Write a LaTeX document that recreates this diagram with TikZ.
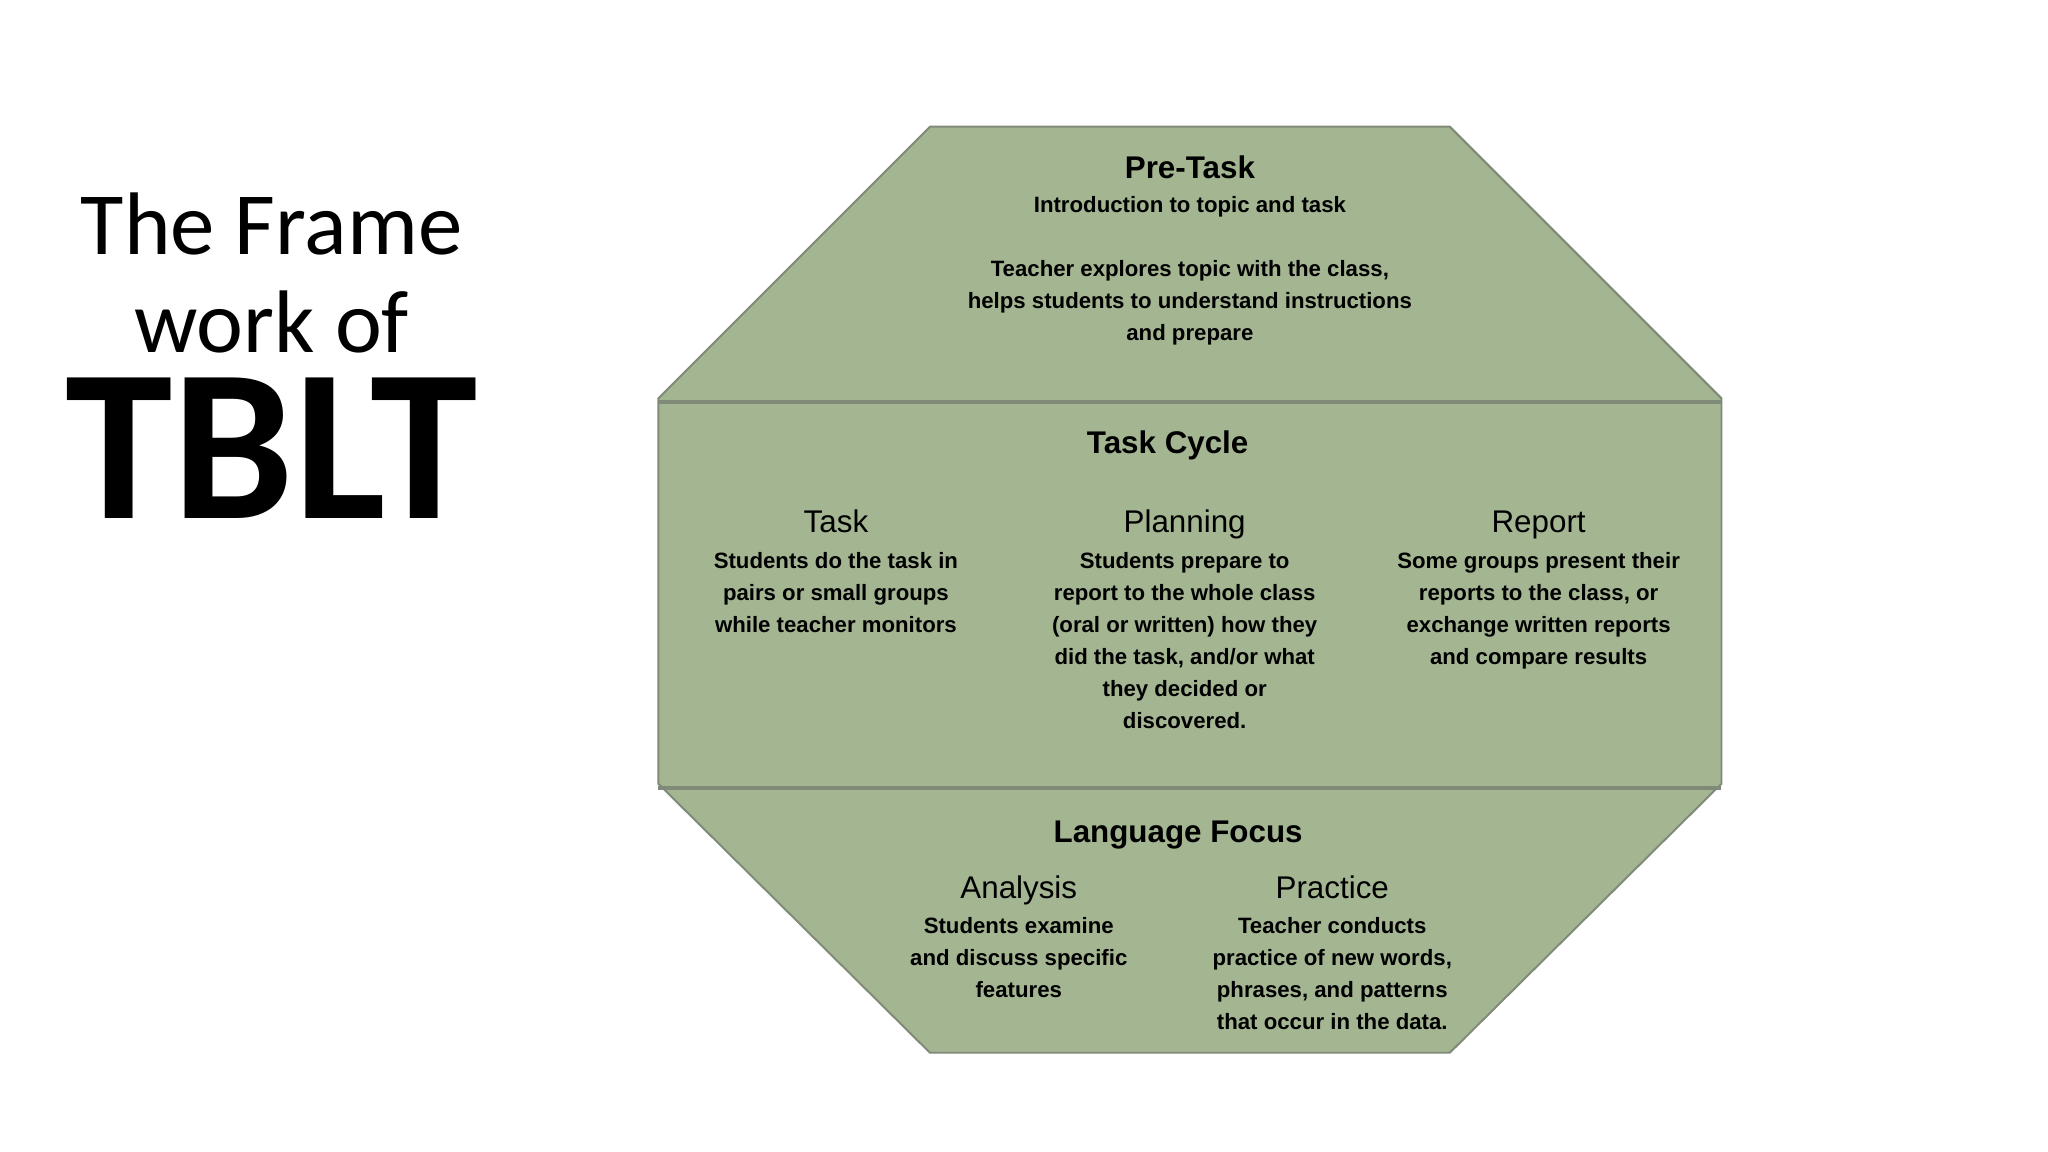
\documentclass[tikz,border=0pt]{standalone}
\usepackage{fontspec}
\setmainfont{Liberation Sans}
\newfontfamily\carfont{Carlito}
\begin{document}
\begin{tikzpicture}[x=1pt,y=-1pt,
  hd/.style={anchor=base,font={\fontsize{24}{28}\selectfont\bfseries}},
  sh/.style={anchor=base,font={\fontsize{24}{28}\selectfont}},
  bd/.style={anchor=base,align=center,inner sep=0pt,font={\fontsize{17}{24.5}\selectfont\bfseries}},
  tt/.style={anchor=base,inner sep=0pt}]
\useasboundingbox (0,0) rectangle (1568,882);
\fill[white] (0,0) rectangle (1568,882);
\definecolor{oct}{HTML}{A4B592}
\definecolor{edge}{HTML}{808A78}
\draw[edge,fill=oct,line width=1.5pt] (712,97) -- (1110,97) -- (1318,305) -- (1318,600) -- (1110,806) -- (712,806) -- (504,600) -- (504,305) -- cycle;
\draw[edge,line width=3pt] (504,308) -- (1318,308);
\draw[edge,line width=3pt] (504,603) -- (1318,603);
\node[tt,font={\carfont\fontsize{68}{74}\selectfont}] (t1) at (208,195) {The Frame};
\node[tt,font={\carfont\fontsize{68}{74}\selectfont}] (t2) at (208,270) {work of};
\node[tt,font={\carfont\fontsize{166}{170}\selectfont\bfseries}] (t3) at (208,397) {TBLT};
\node[hd] (pre) at (911,137) {Pre-Task};
\node[bd] (preb1) at (911,163) {Introduction to topic and task};
\node[bd] (preb2) at (911,261) {Teacher explores topic with the class,\\helps students to understand instructions\\and prepare};
\node[hd] (tc) at (894,347) {Task Cycle};
\node[sh] (task) at (640,408) {Task};
\node[bd] (taskb) at (640,484) {Students do the task in\\pairs or small groups\\while teacher monitors};
\node[sh] (plan) at (907,408) {Planning};
\node[bd] (planb) at (907,557.5) {Students prepare to\\report to the whole class\\(oral or written) how they\\did the task, and/or what\\they decided or\\discovered.};
\node[sh] (rep) at (1178,408) {Report};
\node[bd] (repb) at (1178,508.5) {Some groups present their\\reports to the class, or\\exchange written reports\\and compare results};
\node[hd] (lf) at (902,645) {Language Focus};
\node[sh] (an) at (780,688) {Analysis};
\node[bd] (anb) at (780,764) {Students examine\\and discuss specific\\features};
\node[sh] (pr) at (1020,688) {Practice};
\node[bd] (prb) at (1020,788.5) {Teacher conducts\\practice of new words,\\phrases, and patterns\\that occur in the data.};
\end{tikzpicture}
\end{document}
